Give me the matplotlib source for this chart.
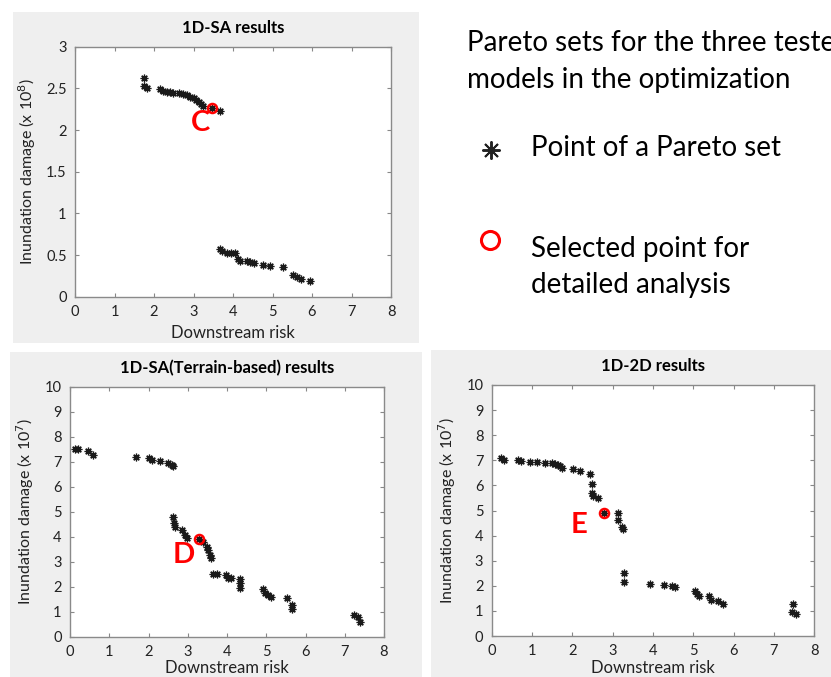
import matplotlib
matplotlib.use("Agg")
import matplotlib.pyplot as plt
from matplotlib.patches import Rectangle
from matplotlib.lines import Line2D

plt.rcParams['font.family'] = ['Lato', 'DejaVu Sans']

#### data

# 1D-SA results, damage in 1e8
sa_risk = [1.75, 1.75, 1.83, 2.15, 2.24, 2.34, 2.41, 2.49, 2.64, 2.73, 2.83,
           2.91, 3.00, 3.07, 3.13, 3.18, 3.23, 3.46, 3.66,
           3.67, 3.72, 3.84, 3.95, 4.05, 4.12, 4.18, 4.35, 4.43, 4.54, 4.75,
           4.94, 5.26, 5.53, 5.62, 5.73, 5.95]
sa_damage = [2.62, 2.53, 2.50, 2.49, 2.47, 2.46, 2.46, 2.45, 2.44, 2.43, 2.42,
             2.40, 2.38, 2.36, 2.34, 2.31, 2.29, 2.26, 2.23,
             0.57, 0.55, 0.53, 0.52, 0.53, 0.45, 0.43, 0.43, 0.42, 0.41, 0.38,
             0.37, 0.36, 0.26, 0.24, 0.21, 0.19]
sa_selected = (3.46, 2.26)

# 1D-SA (terrain-based) results, damage in 1e7
tb_risk = [0.13, 0.21, 0.45, 0.58, 1.68, 2.01, 2.10, 2.29, 2.50, 2.59, 2.63,
           2.63, 2.65, 2.68, 2.85, 2.93, 2.97, 3.29, 3.40, 3.48, 3.52, 3.57,
           3.59, 3.65, 3.74, 3.97, 4.03, 4.09, 4.33, 4.33, 4.33, 4.91, 4.97,
           5.05, 5.11, 5.54, 5.65, 5.65, 7.24, 7.35, 7.39]
tb_damage = [7.49, 7.49, 7.43, 7.25, 7.20, 7.13, 7.07, 7.01, 6.93, 6.85, 6.81,
             4.80, 4.53, 4.40, 4.27, 4.07, 3.93, 3.91, 3.77, 3.60, 3.47, 3.27,
             3.13, 2.51, 2.51, 2.47, 2.36, 2.35, 2.29, 2.13, 1.93, 1.89, 1.76,
             1.67, 1.60, 1.53, 1.27, 1.09, 0.87, 0.80, 0.60]
tb_selected = (3.29, 3.91)

# 1D-2D results, damage in 1e7
cp_risk = [0.23, 0.31, 0.64, 0.73, 0.95, 1.13, 1.32, 1.49, 1.57, 1.64, 1.69,
           1.75, 2.02, 2.19, 2.45, 2.48, 2.48, 2.50, 2.63, 2.79, 3.12, 3.12,
           3.22, 3.26, 3.28, 3.28, 3.93, 4.27, 4.46, 4.55, 5.04, 5.08, 5.14,
           5.39, 5.43, 5.62, 5.73, 7.48, 7.44, 7.54]
cp_damage = [7.08, 7.01, 7.01, 6.97, 6.95, 6.92, 6.91, 6.91, 6.85, 6.81, 6.77,
             6.71, 6.64, 6.57, 6.44, 6.04, 5.68, 5.59, 5.51, 4.89, 4.89, 4.62,
             4.36, 4.26, 2.50, 2.16, 2.06, 2.03, 2.01, 1.97, 1.79, 1.66, 1.61,
             1.61, 1.43, 1.39, 1.26, 1.26, 0.97, 0.86]
cp_selected = (2.79, 4.89)

titles = ["1D-SA results", "1D-SA(Terrain-based) results", "1D-2D results"]
letters = ["C", "D", "E"]
letter_pos = [(3.17, 2.08), (2.91, 3.27), (2.17, 4.42)]
exponents = [8, 7, 7]

#### figure

W, H = 831, 677
fig = plt.figure(figsize=(W / 100, H / 100), dpi=100)

def fx(px):
    return px / W

def fy(py):
    return 1 - py / H

# grey screenshot panels behind each plot
for x0, y0, x1, y1 in [(13, 12, 419, 343), (10, 352, 422, 677), (431, 350, 831, 677)]:
    fig.add_artist(Rectangle((fx(x0), fy(y1)), fx(x1 - x0), (y1 - y0) / H,
                             transform=fig.transFigure, facecolor='#efefef',
                             edgecolor='none', zorder=-5))

boxes = [(75, 46.7, 391, 296.7), (70, 386.7, 384, 636.7), (491.7, 385, 814.3, 636)]
ylims = [(0, 3), (0, 10), (0, 10)]
yticks = [[0, 0.5, 1, 1.5, 2, 2.5, 3], list(range(11)), list(range(11))]
xlabel_pads = [4, 1, 1]
series = [(sa_risk, sa_damage, sa_selected),
          (tb_risk, tb_damage, tb_selected),
          (cp_risk, cp_damage, cp_selected)]

ast = (8, 2, 0)

for i, (x0, y0, x1, y1) in enumerate(boxes):
    ax = fig.add_axes([fx(x0), fy(y1), fx(x1 - x0), (y1 - y0) / H])
    risk, damage, sel = series[i]
    ax.plot(risk, damage, ls='none', marker=ast, ms=5.5, mew=0.9,
            color='#1a1a1a')
    ax.plot([sel[0]], [sel[1]], ls='none', marker='o', ms=6.5, mew=1.8,
            mfc='none', mec='#ff0000')
    ax.text(letter_pos[i][0], letter_pos[i][1], letters[i], color='#ff0000',
            fontsize=21, fontweight='bold', ha='center', va='center')
    ax.set_xlim(0, 8)
    ax.set_ylim(*ylims[i])
    ax.set_xticks(range(9))
    ax.set_yticks(yticks[i])
    ax.set_yticklabels([f"{t:g}" for t in yticks[i]])
    ax.tick_params(direction='in', top=True, right=True, length=3,
                   color='#888888', labelsize=10.5, labelcolor='#222222', pad=6)
    for sp in ax.spines.values():
        sp.set_color('#8a8a8a')
        sp.set_linewidth(1.0)
    ax.set_xlabel("Downstream risk", fontsize=12, color='#222222',
                  labelpad=xlabel_pads[i])
    ax.set_ylabel(f"Inundation damage (x 10$^{{{exponents[i]}}}$)",
                  fontsize=11.5, color='#222222', labelpad=6)
    ax.set_title(titles[i], fontsize=12, fontweight='bold', pad=10)

# explanation text on the right (first line runs off the edge, as in the source)
fs = 20
fig.text(fx(467), fy(43), "Pareto sets for the three tested", fontsize=fs,
         va='center', ha='left')
fig.text(fx(467), fy(80), "models in the optimization", fontsize=fs,
         va='center', ha='left')
fig.add_artist(Line2D([fx(491)], [fy(150)], transform=fig.transFigure,
                      ls='none', marker=ast, ms=13, mew=1.4, color='#222222'))
fig.text(fx(531), fy(148), "Point of a Pareto set", fontsize=fs,
         va='center', ha='left')
fig.add_artist(Line2D([fx(490)], [fy(240)], transform=fig.transFigure,
                      ls='none', marker='o', ms=13, mew=2.2, mfc='none',
                      mec='#ff0000'))
fig.text(fx(531), fy(249), "Selected point for", fontsize=fs,
         va='center', ha='left')
fig.text(fx(531), fy(285), "detailed analysis", fontsize=fs,
         va='center', ha='left')

fig.savefig("out.png", dpi=100)
